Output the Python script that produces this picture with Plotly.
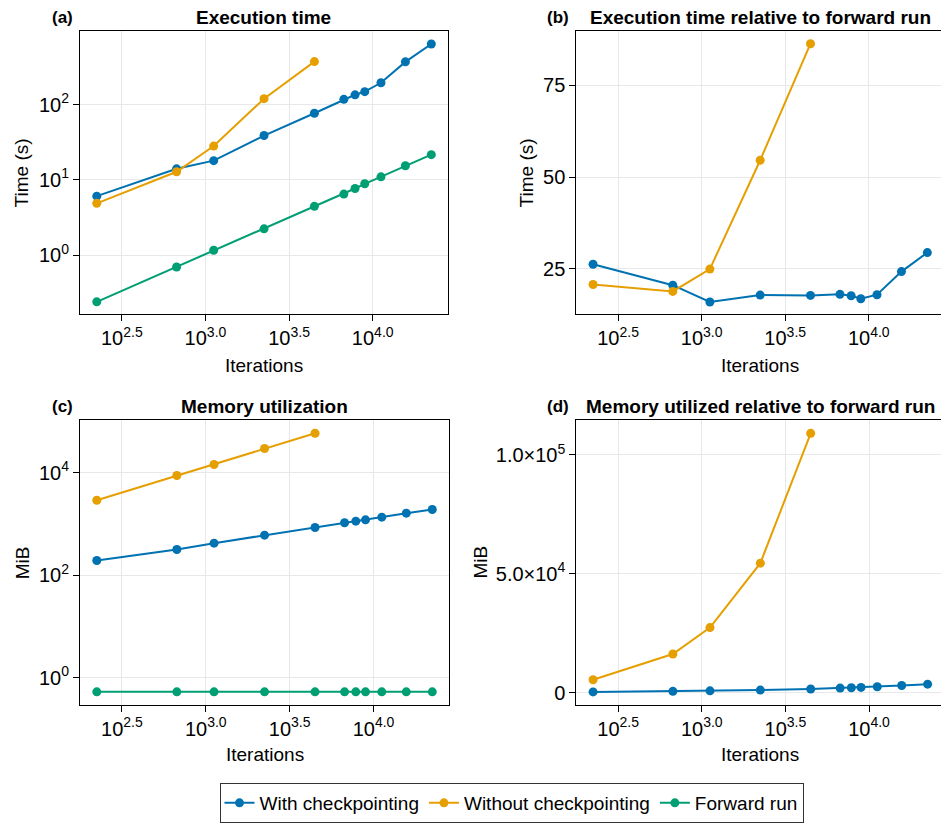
import plotly.graph_objects as go

# ---------------- data ----------------
iterations = [224, 672, 1120, 2240, 4480, 6720, 7840, 8960, 11200, 15680, 22400]
iterations_without = [224, 672, 1120, 2240, 4480]

time_with = [6.07, 14.0, 18.0, 38.8, 76.8, 117.6, 135, 148.6, 195, 370, 640]
time_without = [4.87, 12.8, 28.1, 120, 373]
time_forward = [0.239, 0.694, 1.16, 2.23, 4.44, 6.46, 7.67, 8.86, 10.96, 15.4, 21.6]

rel_time_with = [26.2, 20.5, 15.9, 17.8, 17.7, 18.0, 17.6, 16.8, 17.9, 24.2, 29.4]
rel_time_without = [20.7, 18.8, 24.9, 54.6, 86.4]

mem_with = [193, 316, 420, 601, 849, 1048, 1127, 1197, 1349, 1614, 1905]
mem_without = [2890, 8750, 14360, 29400, 58300]
mem_forward = [0.53] * 11

rel_mem_with = [360, 590, 785, 1120, 1590, 1960, 2100, 2240, 2520, 3040, 3600]
rel_mem_without = [5450, 16300, 27400, 54500, 109100]

series_names = ["With checkpointing", "Without checkpointing", "Forward run"]
colors = ["#0072B2", "#E69F00", "#009E73"]

xtick_exps = [2.5, 3.0, 3.5, 4.0]
xtick_text = ["10<sup>%.1f</sup>" % e for e in xtick_exps]
a_ytick_exps = [0, 1, 2]
c_ytick_exps = [0, 2, 4]
b_ytick_vals = [25, 50, 75]
d_ytick_vals = [0, 5e4, 1e5]
d_ytick_text = ["0", "5.0×10<sup>4</sup>", "1.0×10<sup>5</sup>"]

panel_titles = ["Execution time", "Execution time relative to forward run",
                "Memory utilization", "Memory utilized relative to forward run"]
panel_tags = ["(a)", "(b)", "(c)", "(d)"]
ytitles = ["Time (s)", "Time (s)", "MiB", "MiB"]

# ---------------- layout geometry (pixels) ----------------
OFF = 8  # default page body margin
W, H = 949 - OFF, 823 - OFF
FONT = "Liberation Sans, Arial, Helvetica, sans-serif"
FS = 19
TFS = 20

def px_x(p):
    return (p - OFF) / W

def px_y(p):
    return 1 - (p - OFF) / H

boxes = {
    1: (80, 448, 31, 316),
    2: (576.3, 944, 31, 316),
    3: (80, 449, 422.3, 708.3),
    4: (576.3, 944.3, 422.3, 708.3),
}

fig = go.Figure()

def add(ax, x, y, name_idx, show):
    xa = "x" if ax == 1 else "x%d" % ax
    ya = "y" if ax == 1 else "y%d" % ax
    fig.add_trace(go.Scatter(
        x=x, y=y, mode="lines+markers", name=series_names[name_idx],
        line=dict(color=colors[name_idx], width=2),
        marker=dict(color=colors[name_idx], size=9),
        xaxis=xa, yaxis=ya, showlegend=show, legendgroup=series_names[name_idx]))

add(1, iterations, time_with, 0, True)
add(1, iterations_without, time_without, 1, True)
add(1, iterations, time_forward, 2, True)
add(2, iterations, rel_time_with, 0, False)
add(2, iterations_without, rel_time_without, 1, False)
add(3, iterations, mem_with, 0, False)
add(3, iterations_without, mem_without, 1, False)
add(3, iterations, mem_forward, 2, False)
add(4, iterations, rel_mem_with, 0, False)
add(4, iterations_without, rel_mem_without, 1, False)

common = dict(showline=True, linecolor="black", linewidth=1, mirror=True,
              ticks="outside", ticklen=6, tickcolor="black",
              showgrid=True, gridcolor="#e8e8e8", gridwidth=1, zeroline=False,
              tickfont=dict(family=FONT, size=TFS, color="black"))

yranges = {1: [-0.79, 2.98], 2: [12.5, 89.9], 3: [-0.53, 5.02], 4: [-5100, 114600]}
layout = {}
for i in range(1, 5):
    l, r, t, b = boxes[i]
    xk = "xaxis" if i == 1 else "xaxis%d" % i
    yk = "yaxis" if i == 1 else "yaxis%d" % i
    layout[xk] = dict(common, type="log", range=[2.25, 4.45],
                      domain=[px_x(l), px_x(r)],
                      anchor="y" if i == 1 else "y%d" % i,
                      tickvals=[10 ** e for e in xtick_exps], ticktext=xtick_text)
    ydict = dict(common, domain=[px_y(b), px_y(t)], range=yranges[i],
                 anchor="x" if i == 1 else "x%d" % i)
    if i == 1:
        ydict.update(type="log", tickvals=[10 ** e for e in a_ytick_exps],
                     ticktext=["10<sup>%d</sup>" % e for e in a_ytick_exps])
    elif i == 3:
        ydict.update(type="log", tickvals=[10 ** e for e in c_ytick_exps],
                     ticktext=["10<sup>%d</sup>" % e for e in c_ytick_exps])
    elif i == 2:
        ydict.update(tickvals=b_ytick_vals, ticktext=[str(v) for v in b_ytick_vals])
    else:
        ydict.update(tickvals=d_ytick_vals, ticktext=d_ytick_text)
    layout[yk] = ydict

annotations = []
title_y = {1: 18, 2: 18, 3: 408, 4: 408}
ytitle_x = {1: 21.7, 2: 526.7, 3: 22.7, 4: 481}
xtitle_y = {1: 367, 2: 367, 3: 758.5, 4: 758.5}
for i in range(1, 5):
    l, r, t, b = boxes[i]
    annotations.append(dict(text="<b>%s</b>" % panel_titles[i - 1], xref="paper", yref="paper",
                            x=px_x((l + r) / 2), y=px_y(title_y[i]), xanchor="center",
                            yanchor="middle", showarrow=False,
                            font=dict(family=FONT, size=FS, color="black")))
    annotations.append(dict(text="<b>%s</b>" % panel_tags[i - 1], xref="paper", yref="paper",
                            x=px_x(l - 5), y=px_y(title_y[i]), xanchor="right",
                            yanchor="middle", showarrow=False,
                            font=dict(family=FONT, size=FS - 2, color="black")))
    annotations.append(dict(text=ytitles[i - 1], xref="paper", yref="paper",
                            x=px_x(ytitle_x[i]), y=px_y((t + b) / 2), xanchor="center",
                            yanchor="middle", textangle=-90, showarrow=False,
                            font=dict(family=FONT, size=FS, color="black")))
    annotations.append(dict(text="Iterations", xref="paper", yref="paper",
                            x=px_x((l + r) / 2), y=px_y(xtitle_y[i]), xanchor="center",
                            yanchor="middle", showarrow=False,
                            font=dict(family=FONT, size=FS, color="black")))

fig.update_layout(
    width=W, height=H,
    margin=dict(l=0, r=0, t=0, b=0),
    paper_bgcolor="white", plot_bgcolor="white",
    font=dict(family=FONT, size=FS, color="black"),
    annotations=annotations,
    legend=dict(orientation="h", x=px_x(511.5), xanchor="center", y=px_y(787), yanchor="top",
                bordercolor="#333", borderwidth=1, bgcolor="white",
                font=dict(family=FONT, size=19, color="black")),
    **layout,
)

fig.write_html("out.html")
